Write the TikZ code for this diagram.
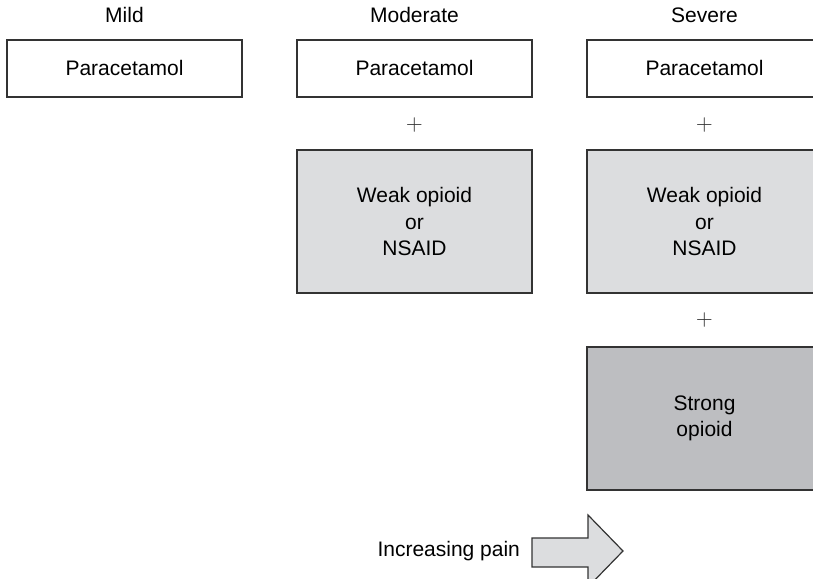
\documentclass[tikz,border=0pt]{standalone}
\usepackage{fontspec}
\setmainfont{Liberation Sans}
\definecolor{boxline}{HTML}{333333}
\definecolor{weakgray}{HTML}{DCDDDF}
\definecolor{stronggray}{HTML}{BDBEC1}
\tikzset{
  drugbox/.style={draw=boxline, line width=0.6pt, minimum width=117.5pt,
    minimum height=28.5pt, inner sep=0pt, align=center,
    font=\fontsize{10.5}{13.3}\selectfont},
  bigbox/.style={drugbox, minimum height=71.5pt},
  stagelabel/.style={font=\fontsize{10.5}{13.3}\selectfont},
  plussign/.style={text=boxline, font=\fontsize{11}{11}\selectfont}
}

\begin{document}
\begin{tikzpicture}[x=0.5pt,y=0.5pt]
	  \useasboundingbox (0,0) rectangle (813,578);
	  \clip (0,0) rectangle (813,578);
	  % stages
	  \node[stagelabel] (mild) at (124.5,563) {Mild};
	  \node[stagelabel] (moderate) at (414.5,563) {Moderate};
	  \node[stagelabel] (severe) at (704.5,563) {Severe};
	  % step 1
	  \node[drugbox] (paraA) at (124.5,509.5) {Paracetamol};
	  % step 2
	  \node[drugbox] (paraB) at (414.5,509.5) {Paracetamol};
	  \node[plussign] (plusB) at (414.5,453) {$+$};
	  \node[bigbox, fill=weakgray] (weakB) at (414.5,356.5) {Weak opioid\\or\\NSAID};
	  % step 3
	  \node[drugbox] (paraC) at (704.5,509.5) {Paracetamol};
	  \node[plussign] (plusC) at (704.5,453) {$+$};
	  \node[bigbox, fill=weakgray] (weakC) at (704.5,356.5) {Weak opioid\\or\\NSAID};
	  \node[plussign] (plusD) at (704.5,258) {$+$};
	  \node[bigbox, fill=stronggray] (strongC) at (704.5,159.5) {Strong\\opioid};
	  % arrow
	  \node[stagelabel, anchor=east] (pain) at (527,27) {Increasing pain};
	  \draw[boxline, line width=0.6pt, fill=weakgray] (532,40) -- (588,40) -- (588,63)
	      -- (623,27) -- (588,-9) -- (588,11) -- (532,11) -- cycle;
\end{tikzpicture}
\end{document}
